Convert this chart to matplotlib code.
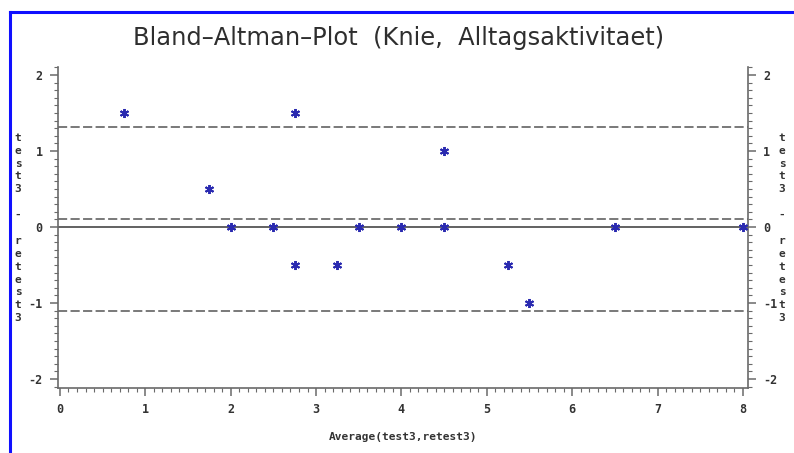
import matplotlib
matplotlib.use("Agg")
import matplotlib.pyplot as plt
from matplotlib.lines import Line2D
from matplotlib.ticker import MultipleLocator

# Data
avg = [0.75, 2.75, 1.75, 4.5, 2.0, 2.5, 3.5, 4.0, 4.5, 6.5, 8.0, 2.75, 3.25, 5.25, 5.5]
diff = [1.5, 1.5, 0.5, 1.0, 0.0, 0.0, 0.0, 0.0, 0.0, 0.0, 0.0, -0.5, -0.5, -0.5, -1.0]
mean_diff = 0.11
upper_loa = 1.32
lower_loa = -1.10
xticks = [0, 1, 2, 3, 4, 5, 6, 7, 8]
yticks = [-2, -1, 0, 1, 2]
ytick_labels = ["-2", "-1", "0", "1", "2"]
title = "Bland\u2013Altman\u2013Plot  (Knie,  Alltagsaktivitaet)"
xlabel = "Average(test3,retest3)"
ylabel = "test3 - retest3"

W, H = 794, 453
fig = plt.figure(figsize=(W / 100, H / 100), dpi=100)
ax = fig.add_axes([58 / W, 1 - 388 / H, (748 - 58) / W, (388 - 67) / H])

axcol = "#6a6a6a"
txtcol = "#333333"
ax.set_xlim(-0.023, 8.06)
ax.set_ylim(-2.118, 2.105)

ax.axhline(0, color="#555555", lw=1.3, zorder=1)
for v in (mean_diff, upper_loa, lower_loa):
    ax.axhline(v, color="#555555", lw=1.1, dashes=(6, 2.2), zorder=1)

ax.plot(avg, diff, linestyle="none", marker=(6, 2, 0), markersize=6.5,
        markeredgewidth=1.4, color="#2a2ab0", zorder=3)

ax.spines["top"].set_visible(False)
for s in ("left", "right", "bottom"):
    ax.spines[s].set_color(axcol)
    ax.spines[s].set_linewidth(1.2)

mono = "DejaVu Sans Mono"
ax.set_xticks(xticks)
ax.set_yticks(yticks)
ax.set_yticklabels(ytick_labels)
ax.xaxis.set_minor_locator(MultipleLocator(0.1))
ax.yaxis.set_minor_locator(MultipleLocator(0.1))
ax.tick_params(which="major", direction="out", length=6, width=1.1, color=axcol,
               labelcolor=txtcol, left=True, right=True, labelleft=True, labelright=True)
ax.tick_params(which="minor", direction="out", length=3, width=0.8, color=axcol,
               left=True, right=True)
ax.tick_params(axis="x", which="major", pad=5)
ax.tick_params(axis="y", which="major", pad=5)
for lab in ax.get_xticklabels() + ax.get_yticklabels():
    lab.set_fontfamily(mono)
    lab.set_fontweight("bold")
    lab.set_fontsize(8.5)

ax.set_xlabel(xlabel, fontfamily=mono, fontweight="bold", fontsize=8,
              color=txtcol, labelpad=11)

stacked = "\n".join(list(ylabel))
for xp in (18, 782):
    fig.text(xp / W, 1 - 228 / H, stacked, ha="center", va="center", fontsize=8,
             fontfamily=mono, fontweight="bold", color=txtcol, linespacing=1.36)

fig.text(399 / W, 1 - 38 / H, title, ha="center", va="center", fontsize=17.4,
         fontfamily="DejaVu Sans", color="#2e2e2e")

# blue frame (top and left visible)
fig.add_artist(Line2D([10 / W, 1.0], [1 - 12 / H, 1 - 12 / H], color="#1010ff", lw=2.2,
                      transform=fig.transFigure))
fig.add_artist(Line2D([10 / W, 10 / W], [1 - 12 / H, 0.0], color="#1010ff", lw=2.2,
                      transform=fig.transFigure))

fig.savefig("out.png", dpi=100)
